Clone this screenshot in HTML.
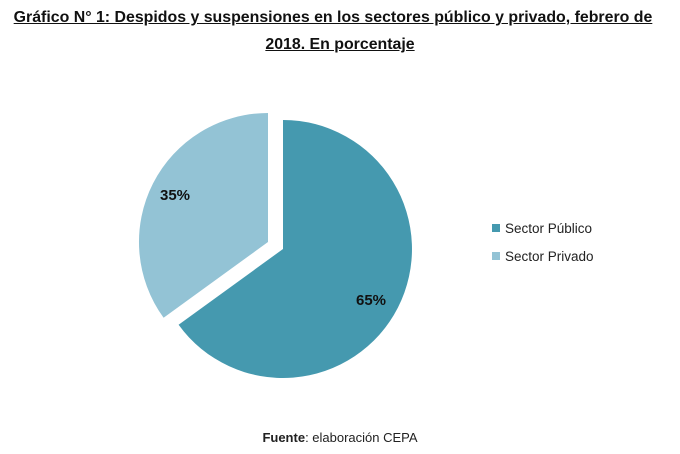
<!DOCTYPE html>
<html><head><meta charset="utf-8"><style>
body{margin:0;background:#fff;width:680px;height:454px;overflow:hidden;font-family:"Liberation Sans",sans-serif}
.t{position:absolute;left:0;width:680px;text-align:center;font-weight:bold;font-size:15.9px;text-decoration:underline;color:#111}
</style></head><body>
<div class="t" style="top:9px;left:-7px">Gráfico N° 1: Despidos y suspensiones en los sectores público y privado, febrero de</div>
<div class="t" style="top:36px">2018. En porcentaje</div>
<svg width="680" height="454" style="position:absolute;left:0;top:0">
<path d="M283,249 L283,120 A129,129 0 1 1 178.6,324.8 Z" fill="#4599AF"/>
<path d="M268,242 L163.6,317.8 A129,129 0 0 1 268,113 Z" fill="#93C3D5"/>
<text x="160" y="200" font-size="15" font-weight="bold" fill="#111" font-family="Liberation Sans">35%</text>
<text x="356" y="305" font-size="15" font-weight="bold" fill="#111" font-family="Liberation Sans">65%</text>
<rect x="492" y="224" width="8" height="8" fill="#4599AF"/>
<rect x="492" y="252" width="8" height="8" fill="#93C3D5"/>
<text x="505" y="233" font-size="13.5" fill="#222" font-family="Liberation Sans">Sector Público</text>
<text x="505" y="261" font-size="13.5" fill="#222" font-family="Liberation Sans">Sector Privado</text>
<text x="340" y="442" font-size="13" fill="#222" text-anchor="middle" font-family="Liberation Sans"><tspan font-weight="bold">Fuente</tspan>: elaboración CEPA</text>
</svg>
</body></html>
